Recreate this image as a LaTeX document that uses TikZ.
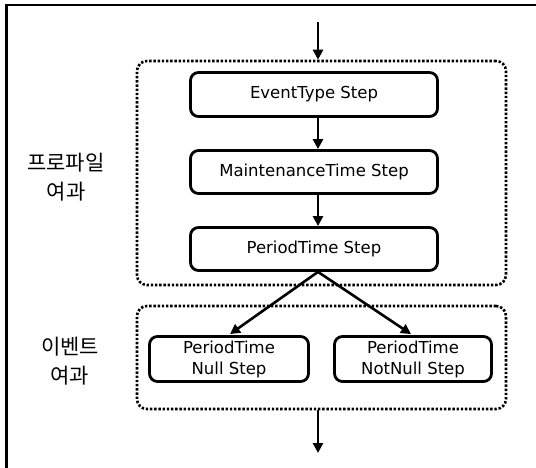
\documentclass[tikz,border=0pt]{standalone}
\usepackage{fontspec}
\setmainfont{DejaVu Sans}
\newfontfamily\cjk{Noto Sans CJK KR}
\usetikzlibrary{arrows.meta}
\tikzset{
  stepbox/.style={draw, line width=2.8pt, rounded corners=8pt, fill=white,
    align=center, inner sep=0pt, font=\fontsize{16.5}{21}\selectfont},
  groupbox/.style={draw, line width=2.6pt, rounded corners=10pt, dash pattern=on 2.4pt off 1.8pt,
    inner sep=0pt},
  conn/.style={line width=2.6pt, -{Triangle[length=10pt,width=10pt]}},
  lbl/.style={align=center, font=\cjk\fontsize{21}{29}\selectfont}
}
\begin{document}
\begin{tikzpicture}[x=1pt,y=-1pt]
\useasboundingbox (0,0) rectangle (536,468);
% frame (only top and left edges visible)
\draw[line width=2.4pt] (6.5,468) -- (6.5,5) -- (536,5);

\node[groupbox, minimum width=369pt, minimum height=224pt] (g1) at (321.5,173) {};
\node[groupbox, minimum width=369pt, minimum height=103pt] (g2) at (321.5,357.5) {};

\node[stepbox, minimum width=247pt, minimum height=44pt] (e1) at (314,94.5) {EventType Step};
\node[stepbox, minimum width=247pt, minimum height=43pt] (e2) at (314,172) {MaintenanceTime Step};
\node[stepbox, minimum width=247pt, minimum height=43pt] (e3) at (314,249) {PeriodTime Step};
\node[stepbox, minimum width=159pt, minimum height=45pt] (n1) at (229,359) {PeriodTime\\Null Step};
\node[stepbox, minimum width=157pt, minimum height=45pt] (n2) at (413,359) {PeriodTime\\NotNull Step};

\node[lbl] (l1) at (66,177) {프로파일\\여과};
\node[lbl] (l2) at (70,361) {이벤트\\여과};

\coordinate (in) at (318,22);
\coordinate (out) at (318,453);

\draw[conn] (in) -- (g1.north -| in);
\draw[conn] ([xshift=4pt]e1.south) -- ([xshift=4pt]e2.north);
\draw[conn] ([xshift=4pt]e2.south) -- ([xshift=4pt]e3.north);
\draw[conn] ([xshift=4pt]e3.south) -- ([xshift=1pt,yshift=1pt]n1.north);
\draw[conn] ([xshift=4pt]e3.south) -- ([xshift=-2pt,yshift=1pt]n2.north);
\draw[conn] (g2.south -| in) -- (out);
\end{tikzpicture}
\end{document}
